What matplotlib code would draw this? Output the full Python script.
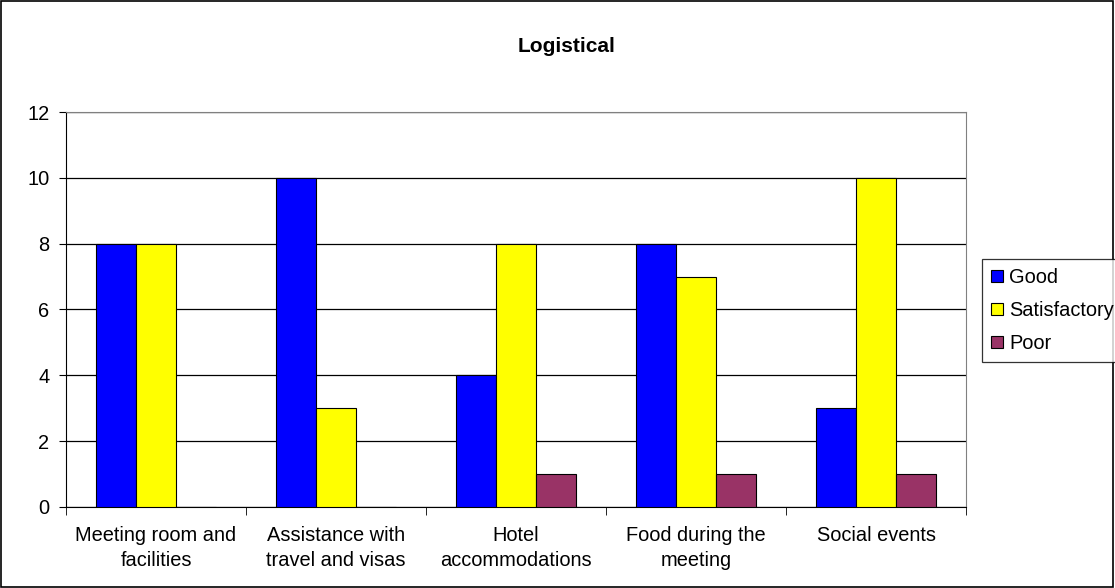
import numpy as np
import matplotlib
matplotlib.use("Agg")
import matplotlib.pyplot as plt
from matplotlib.patches import Rectangle

categories = ["Meeting room and\nfacilities", "Assistance with\ntravel and visas",
              "Hotel\naccommodations", "Food during the\nmeeting", "Social events"]
good = [8, 10, 4, 8, 3]
satisfactory = [8, 3, 8, 7, 10]
poor = [0, 0, 1, 1, 1]

series = [("Good", good, "#0000FF"),
          ("Satisfactory", satisfactory, "#FFFF00"),
          ("Poor", poor, "#993366")]

plt.rcParams['font.family'] = ['Liberation Sans', 'DejaVu Sans']
fs = 14.4

fig = plt.figure(figsize=(11.15, 5.88), dpi=100)
ax = fig.add_axes([0.0592, 0.1378, 0.8072, 0.6717])

x = np.arange(len(categories))
w = 0.222
for i, (name, vals, col) in enumerate(series):
    ax.bar(x + (i - 1) * w, vals, width=w, color=col, edgecolor="black",
           linewidth=0.8, label=name, zorder=3)

ax.set_xlim(-0.5, len(categories) - 0.5)
ax.set_ylim(0, 12)
ax.set_yticks(range(0, 13, 2))
ax.yaxis.grid(True, color="black", linewidth=0.9, zorder=0)
ax.set_axisbelow(True)

ax.set_xticks(x)
ax.set_xticklabels(categories, fontsize=fs, linespacing=1.35)
ax.tick_params(axis="x", length=0, pad=14)
ax.set_xticks(np.arange(-0.5, len(categories)), minor=True)
ax.tick_params(axis="x", which="minor", length=6, direction="out", color="black")
ax.tick_params(axis="y", labelsize=fs, length=5, pad=7, color="black")

for s in ["top", "right"]:
    ax.spines[s].set_color("#808080")
for s in ["left", "bottom"]:
    ax.spines[s].set_color("black")

fig.text(0.5085, 0.921, "Logistical", ha="center", va="center",
         fontsize=15, fontweight="bold")

leg = fig.legend(loc="upper left", bbox_to_anchor=(982 / 1115, 1 - 259 / 588),
                 frameon=True, fancybox=False, edgecolor="black", fontsize=fs,
                 handlelength=0.6, handleheight=0.6, handletextpad=0.3,
                 borderpad=0.45, labelspacing=0.7, borderaxespad=0)
leg.get_frame().set_linewidth(0.9)

fig.patches.append(Rectangle((0.001, 0.002), 0.997, 0.996, transform=fig.transFigure,
                             fill=False, edgecolor="black", linewidth=1.2))

fig.savefig("out.png", dpi=100)
